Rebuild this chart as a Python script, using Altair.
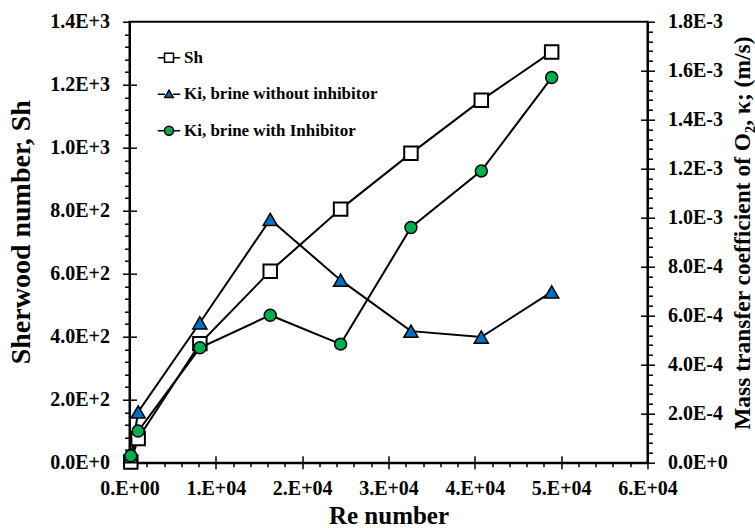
import altair as alt
import pandas as pd

# Reynolds numbers of the runs
re_number = [150, 1000, 8150, 16300, 24450, 32600, 40750, 48900]
# Sherwood number (left axis)
sherwood = [2, 77, 378, 608, 805, 982, 1151, 1304]
# Mass transfer coefficient of O2, m/s (right axis)
ki_without = [2.5e-5, 2.07e-4, 5.71e-4, 9.93e-4, 7.45e-4, 5.37e-4, 5.13e-4, 6.97e-4]
ki_with = [2.8e-5, 1.29e-4, 4.69e-4, 6.02e-4, 4.84e-4, 9.60e-4, 1.191e-3, 1.572e-3]

series_names = ["Sh", "Ki, brine without inhibitor", "Ki, brine with Inhibitor"]
series_fill = ["#FFFFFF", "#0070C0", "#00B050"]
# legend glyphs: a short line with the marker drawn over its middle
series_glyph = [
    "M-1,0H-0.4M-0.4,-0.4H0.4V0.4H-0.4ZM0.4,0H1",
    "M-1,0H-0.36M0,-0.36L0.38,0.3L-0.38,0.3ZM0.36,0H1",
    "M-1,0H-0.4M0.4,0A0.4,0.4 0 1,1 -0.4,0A0.4,0.4 0 1,1 0.4,0ZM0.4,0H1",
]

df = pd.DataFrame({"re": re_number, "sh": sherwood, "ki_no": ki_without, "ki_in": ki_with})
legend_df = pd.DataFrame({"series": series_names})

FONT = "Liberation Serif"
W, H = 518, 441

x_dom = [0, 60000]
sh_dom = [0, 1400]
ki_dom = [0, 0.0018]

x_vals = list(range(0, 60001, 2000))
sh_vals = list(range(0, 1401, 40))
ki_vals = [round(i * 4e-5, 7) for i in range(46)]

common_axis = dict(
    labelFont=FONT, labelFontWeight="bold", labelFontSize=20, labelColor="black",
    titleFont=FONT, titleFontWeight="bold", titleColor="black",
    domainColor="black", domainWidth=2, tickColor="black", tickWidth=1.5,
    grid=False, labelOverlap=False, labelFlush=False,
)

x_main_axis = alt.Axis(
    values=x_vals,
    labelExpr="datum.value % 10000 == 0 ? (datum.value == 0 ? '0.E+00' : format(datum.value / 10000, 'd') + '.E+04') : ''",
    tickSize={"condition": {"test": "datum.value % 10000 == 0", "value": 6}, "value": 4},
    labelPadding=10, titleFontSize=25, titleY=60.5, titleBaseline="alphabetic",
    **common_axis,
)
sh_main_axis = alt.Axis(
    orient="left", values=sh_vals,
    labelExpr="datum.value % 200 == 0 ? replace(format(datum.value, '.1e'), 'e', 'E') : ''",
    tickSize={"condition": {"test": "datum.value % 200 == 0", "value": 7}, "value": 5},
    labelPadding=13, titleFontSize=28, titleAngle=270, titleX=-108, titleY=210,
    titleAlign="center", titleBaseline="middle",
    **common_axis,
)
ki_main_axis = alt.Axis(
    orient="right", values=ki_vals,
    labelExpr="round(datum.value / 0.00004) % 5 == 0 ? replace(format(datum.value, '.1e'), 'e', 'E') : ''",
    tickSize={"condition": {"test": "round(datum.value / 0.00004) % 5 == 0", "value": 7}, "value": 5},
    labelPadding=13, titleFontSize=23.5, titleAngle=270, titleX=95, titleY=211,
    titleAlign="center", titleBaseline="middle",
    **common_axis,
)


def inner_ticks(orient, values):
    # major ticks drawn on the inside of the frame
    return alt.Axis(
        orient=orient, values=values, labels=False, domain=False, grid=False,
        ticks=True, tickSize=7, tickColor="black", tickWidth=1.5, offset=-7, title=None,
    )


def xenc(axis=None):
    return alt.X("re:Q", scale=alt.Scale(domain=x_dom, nice=False, zero=False), axis=axis)


base = alt.Chart(df)

sh_line = base.mark_line(color="black", strokeWidth=2).encode(
    x=xenc(x_main_axis).title("Re number"),
    y=alt.Y("sh:Q", scale=alt.Scale(domain=sh_dom, nice=False), axis=sh_main_axis).title("Sherwood number, Sh"),
)
sh_pts = base.mark_point(shape="square", size=182, filled=True, fill="white",
                         stroke="black", strokeWidth=2, opacity=1).encode(
    x=xenc(inner_ticks("bottom", list(range(10000, 50001, 10000)))),
    y=alt.Y("sh:Q", scale=alt.Scale(domain=sh_dom, nice=False),
            axis=inner_ticks("left", list(range(200, 1201, 200)))),
)
kn_line = base.mark_line(color="black", strokeWidth=2).encode(
    x=xenc(),
    y=alt.Y("ki_no:Q", scale=alt.Scale(domain=ki_dom, nice=False), axis=ki_main_axis).title(
        "Mass transfer coefficient of O\u2082, \u03ba; (m/s)"),
)
kn_pts = base.mark_point(shape="triangle-up", size=200, filled=True, fill="#0070C0",
                         stroke="black", strokeWidth=1.5, opacity=1).encode(
    x=xenc(),
    y=alt.Y("ki_no:Q", scale=alt.Scale(domain=ki_dom, nice=False),
            axis=inner_ticks("right", [round(i * 2e-4, 6) for i in range(1, 9)])),
)
ki_line = base.mark_line(color="black", strokeWidth=2).encode(
    x=xenc(),
    y=alt.Y("ki_in:Q", scale=alt.Scale(domain=ki_dom, nice=False), axis=None),
)
ki_pts = base.mark_point(shape="circle", size=143, filled=True, fill="#00B050",
                         stroke="black", strokeWidth=1.5, opacity=1).encode(
    x=xenc(),
    y=alt.Y("ki_in:Q", scale=alt.Scale(domain=ki_dom, nice=False), axis=None),
)

legend_props = dict(
    title=None, orient="none", legendX=27.5, legendY=24, padding=0,
    labelFont=FONT, labelFontWeight="bold", labelFontSize=17, labelColor="black",
    labelOffset=3, labelLimit=400, symbolSize=506, symbolStrokeWidth=1.5,
    symbolOpacity=1, rowPadding=16.5,
)
legend_layer = alt.Chart(legend_df).mark_point(opacity=0, filled=True).encode(
    shape=alt.Shape("series:N", scale=alt.Scale(domain=series_names, range=series_glyph),
                    legend=alt.Legend(**legend_props)),
    fill=alt.Fill("series:N", scale=alt.Scale(domain=series_names, range=series_fill),
                  legend=alt.Legend(**legend_props)),
    stroke=alt.Stroke("series:N", scale=alt.Scale(domain=series_names, range=["black"] * 3),
                      legend=alt.Legend(**legend_props)),
)

chart = alt.layer(
    sh_line, kn_line, ki_line, sh_pts, kn_pts, ki_pts, legend_layer
).resolve_scale(
    x="independent", y="independent"
).properties(
    width=W, height=H,
    autosize=alt.AutoSizeParams(type="none"),
    padding={"left": 129.5, "top": 21.7, "right": 107.5, "bottom": 65.5},
    background="white",
).configure_view(
    stroke="black", strokeWidth=2
)

chart.save("out.html", embed_options={"renderer": "svg", "actions": False})
